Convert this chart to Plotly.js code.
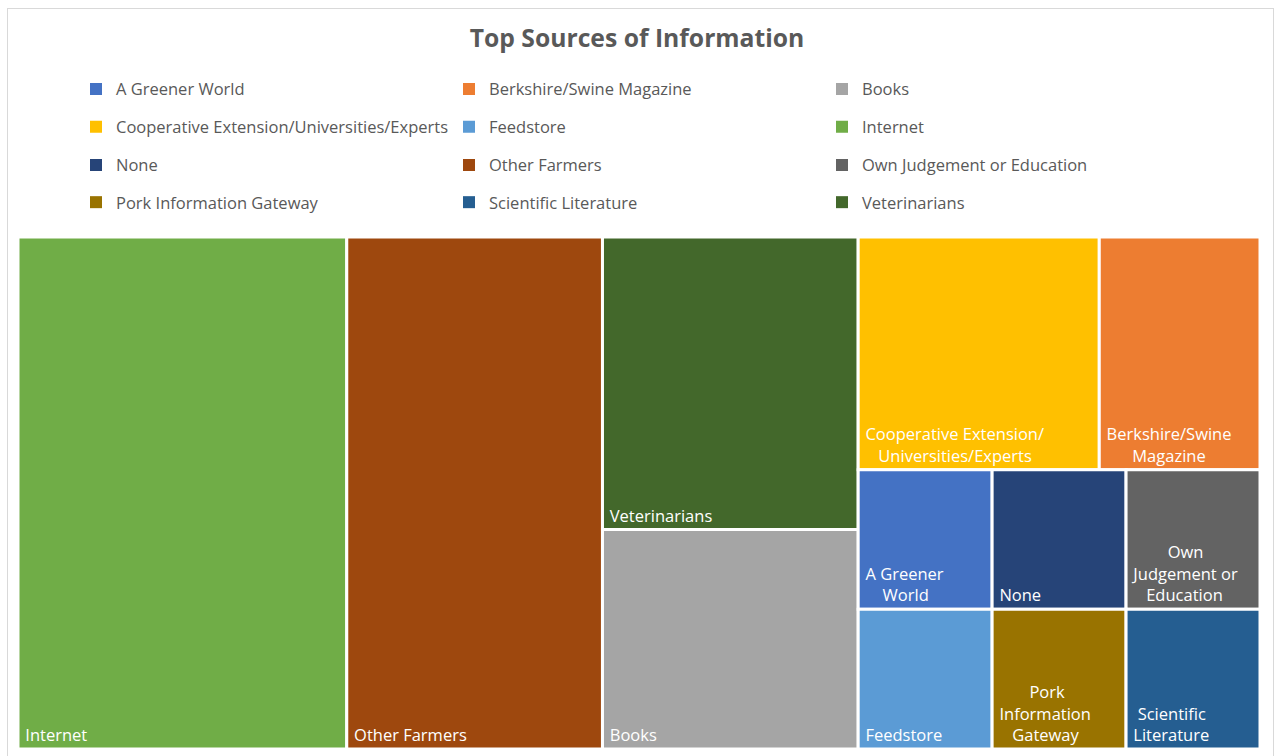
<!DOCTYPE html>
<html>
<head>
<meta charset="utf-8">
<script src="https://cdn.plot.ly/plotly-3.0.1.min.js"></script>
<style>
  body { margin: 0; background: #fff; }
  #chart { width: 1274px; height: 756px; position: relative; }
  #frame { position: absolute; left: 7px; top: 8px; width: 1265px; height: 760px; border: 1px solid #d9d9d9; pointer-events: none; }
</style>
</head>
<body>
<div id="chart"><div id="frame"></div></div>
<script>
// sources, alphabetical (legend order)
var labels = ['A Greener World', 'Berkshire/Swine Magazine', 'Books',
  'Cooperative Extension/Universities/Experts', 'Feedstore', 'Internet',
  'None', 'Other Farmers', 'Own Judgement or Education',
  'Pork Information Gateway', 'Scientific Literature', 'Veterinarians'];
// number of responses per source
var values = [1, 2, 3, 3, 1, 9, 1, 7, 1, 1, 1, 4];
// wrapped text shown inside the cells
var cellText = ['A Greener<br>World', 'Berkshire/Swine<br>Magazine', 'Books',
  'Cooperative Extension/<br>Universities/Experts', 'Feedstore', 'Internet',
  'None', 'Other Farmers', 'Own<br>Judgement or<br>Education',
  'Pork<br>Information<br>Gateway', 'Scientific<br>Literature', 'Veterinarians'];
var colors = ['#4472C4', '#ED7D31', '#A5A5A5', '#FFC000', '#5B9BD5', '#70AD47',
  '#264478', '#9E480E', '#636363', '#997300', '#255E91', '#43682B'];

var cellFont = 16.5;

// centre the lines of a wrapped label on each other (like Excel does),
// padding with no-break spaces measured on a canvas
var ctx = document.createElement('canvas').getContext('2d');
ctx.font = cellFont + 'px "Open Sans"';
var nb = '\u00A0';
var nbW = ctx.measureText(nb).width;
function centreLines(s) {
  var lines = s.split('<br>');
  var widths = lines.map(function (l) { return ctx.measureText(l).width; });
  var maxW = Math.max.apply(null, widths);
  return lines.map(function (l, k) {
    var n = Math.round((maxW - widths[k]) / 2 / nbW);
    return nb + new Array(n + 1).join(nb) + l;
  }).join('<br>');
}

var parents = labels.map(function () { return ''; });

var treemap = {
  type: 'treemap',
  labels: labels,
  parents: parents,
  values: values,
  text: cellText.map(centreLines),
  textinfo: 'text',
  textposition: 'bottom left',
  textfont: { family: 'Open Sans', size: cellFont, color: '#ffffff' },
  marker: { colors: colors, line: { width: 3, color: '#ffffff' }, pad: { t: 0, l: 0, r: 0, b: 0 } },
  tiling: { packing: 'squarify', pad: 0 },
  pathbar: { visible: false },
  sort: true,
  hoverinfo: 'label+value',
  showlegend: false
};

// legend entries, 3 per row, 4 rows
var rowY = [1.2885, 1.2146, 1.1401, 1.0675];
var legendNames = ['legend', 'legend2', 'legend3', 'legend4'];
var data = [treemap];
for (var i = 0; i < labels.length; i++) {
  data.push({
    type: 'scatter',
    mode: 'markers',
    x: [null],
    y: [null],
    name: labels[i],
    marker: { symbol: 'square', size: 12, color: colors[i] },
    legend: legendNames[Math.floor(i / 3)],
    showlegend: true,
    hoverinfo: 'skip'
  });
}

var layout = {
  width: 1274,
  height: 756,
  margin: { l: 18, r: 14, t: 237, b: 7 },
  paper_bgcolor: '#ffffff',
  plot_bgcolor: '#ffffff',
  title: {
    text: '<b>Top Sources of Information</b>',
    font: { family: 'Open Sans', size: 24.7, color: '#595959' },
    x: 0.5,
    xanchor: 'center',
    y: 0.949,
    yref: 'container',
    yanchor: 'middle'
  },
  xaxis: { visible: false },
  yaxis: { visible: false },
  font: { family: 'Open Sans', color: '#595959' }
};

legendNames.forEach(function (name, r) {
  layout[name] = {
    orientation: 'h',
    x: 0.0467,
    xanchor: 'left',
    y: rowY[r],
    yanchor: 'middle',
    entrywidth: 328,
    entrywidthmode: 'pixels',
    font: { family: 'Open Sans', size: 16.5, color: '#595959' },
    bgcolor: 'rgba(0,0,0,0)'
  };
});

Plotly.newPlot('chart', data, layout, { displayModeBar: false });
</script>
</body>
</html>
